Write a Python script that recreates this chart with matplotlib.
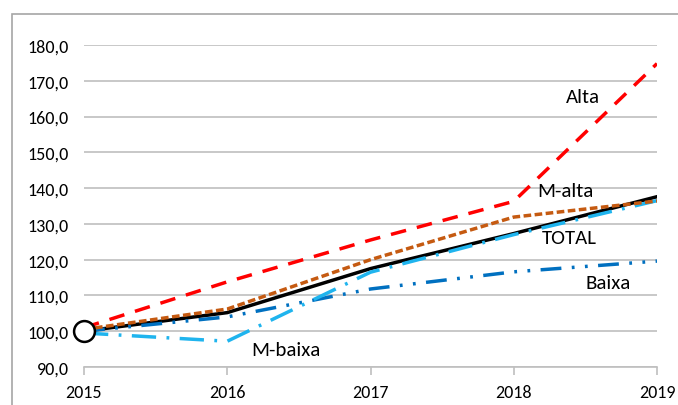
import matplotlib.pyplot as plt
from matplotlib import font_manager
from matplotlib.patches import Rectangle
from matplotlib.ticker import FuncFormatter

# fonte estreita parecida com Calibri (se houver)
nomes = {f.name for f in font_manager.fontManager.ttflist}
fonte = next((n for n in ['Liberation Sans Narrow', 'Carlito', 'Lato'] if n in nomes), 'DejaVu Sans')
plt.rcParams['font.family'] = [fonte, 'DejaVu Sans']

anos = [2015, 2016, 2017, 2018, 2019]
alta = [101.0, 113.8, 125.5, 136.3, 174.8]
m_alta = [100.5, 106.2, 120.0, 131.9, 136.4]
total = [100.0, 105.2, 117.5, 127.3, 137.6]
m_baixa = [99.5, 97.2, 116.5, 127.0, 136.5]
baixa = [100.0, 104.0, 111.8, 116.6, 119.6]

fig = plt.figure(figsize=(6.78, 4.06), dpi=100)
# moldura cinza do grafico (cortada na direita/baixo)
fig.patches.append(Rectangle((12/678, -0.05), 1.0, 1 - 15/406 + 0.05,
                             transform=fig.transFigure, fill=False,
                             edgecolor='#A6A6A6', lw=1.2))

ax = fig.add_axes([84/678, 1 - 368/406, (657 - 84)/678, (368 - 46)/406])

ax.plot(anos, total, color='black', lw=2.5, zorder=3)
ax.plot(anos, baixa, color='#0070C0', lw=2.5, dashes=(6, 3, 0.8, 3, 0.8, 3), zorder=4)
ax.plot(anos, m_baixa, color='#1FB4EE', lw=2.5, dashes=(7, 3, 0.8, 3), zorder=5)
ax.plot(anos, m_alta, color='#C55A11', lw=2.5, dashes=(2.2, 1.0), zorder=6)
ax.plot(anos, alta, color='#FF0000', lw=2.5, dashes=(4.5, 3.2), zorder=7)
ax.plot(anos[:1], total[:1], marker='o', ms=15, mfc='white', mec='black',
        mew=1.8, ls='none', zorder=8, clip_on=False)

ax.set_xlim(2015, 2019)
ax.set_ylim(90, 180)
ax.set_yticks(range(90, 181, 10))
ax.set_xticks(anos)
ax.yaxis.set_major_formatter(FuncFormatter(lambda v, p: f'{v:.1f}'.replace('.', ',')))
ax.grid(axis='y', color='#BFBFBF', lw=1.2)
ax.set_axisbelow(True)
for s in ['top', 'right', 'left']:
    ax.spines[s].set_visible(False)
ax.spines['bottom'].set_color('#BFBFBF')
ax.spines['bottom'].set_linewidth(1.2)
ax.tick_params(axis='y', length=0, pad=11, labelsize=13)
ax.tick_params(axis='x', length=6, color='#BFBFBF', width=1.2, pad=6, labelsize=13)

ax.text(2018.48, 165.5, 'Alta', fontsize=15, ha='center', va='center')
ax.text(2018.36, 139.4, 'M-alta', fontsize=15, ha='center', va='center')
ax.text(2018.39, 126.3, 'TOTAL', fontsize=15, ha='center', va='center')
ax.text(2018.66, 113.6, 'Baixa', fontsize=15, ha='center', va='center')
ax.text(2016.41, 94.8, 'M-baixa', fontsize=15, ha='center', va='center')

fig.savefig('out.png', dpi=100)
